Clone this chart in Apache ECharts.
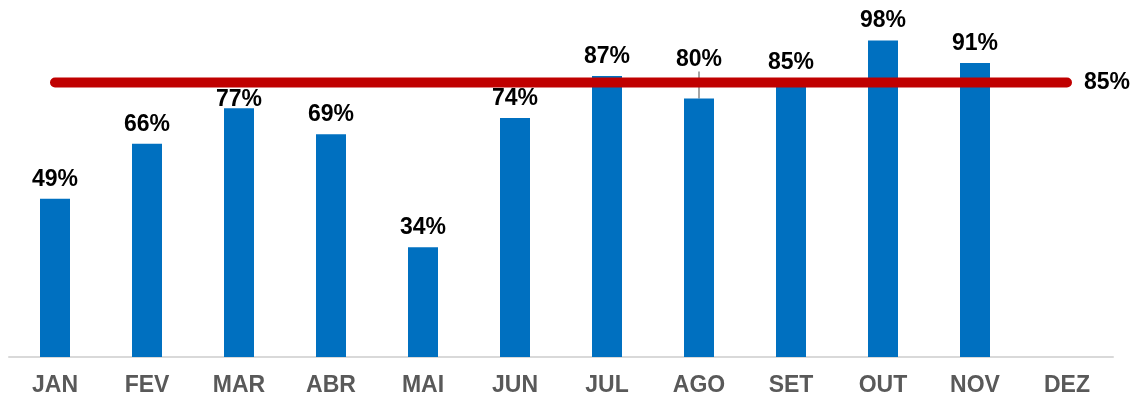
<!DOCTYPE html>
<html>
<head>
<meta charset="utf-8">
<script src="https://cdn.jsdelivr.net/npm/echarts@6/dist/echarts.min.js"></script>
<style>
  html, body { margin: 0; padding: 0; background: #fff; }
  #chart { width: 1132px; height: 401px; }
</style>
</head>
<body>
<div id="chart"></div>
<script>
  const months = ['JAN', 'FEV', 'MAR', 'ABR', 'MAI', 'JUN', 'JUL', 'AGO', 'SET', 'OUT', 'NOV', 'DEZ']
  const realizado = [49, 66, 77, 69, 34, 74, 87, 80, 85, 98, 91, null]
  const meta = [85, 85, 85, 85, 85, 85, 85, 85, 85, 85, 85, 85]

  const chart = echarts.init(document.getElementById('chart'))
  const font = '"Liberation Sans", Arial, sans-serif'

  // rótulos deslocados como no original (MAR mais baixo, AGO mais alto com linha guia)
  const barData = realizado.map((v, i) => {
    if (i === 7) return { value: v, labelLine: { show: true, lineStyle: { color: '#a6a6a6', width: 2 } } }
    return v
  })

  chart.setOption({
    animation: false,
    grid: { left: 9, right: 19, top: 34, bottom: 44 },
    xAxis: {
      type: 'category',
      data: months,
      axisTick: { show: false },
      axisLine: { lineStyle: { color: '#d9d9d9', width: 2 } },
      axisLabel: { color: '#595959', fontWeight: 'bold', fontSize: 23, fontFamily: font, margin: 17 }
    },
    yAxis: {
      type: 'value',
      min: 0,
      max: 100,
      show: false
    },
    series: [
      {
        name: 'Realizado',
        type: 'bar',
        barWidth: 30,
        data: barData,
        itemStyle: { color: '#0070c0' },
        label: {
          show: true,
          position: 'top',
          distance: 8,
          formatter: '{c}%',
          color: '#000',
          fontWeight: 'bold',
          fontSize: 23,
          fontFamily: font
        },
        labelLayout: (params) => {
          if (params.dataIndex === 2) return { dy: 11 }
          if (params.dataIndex === 7) return { dy: -19 }
          return {}
        }
      },
      {
        name: 'Meta',
        type: 'line',
        data: meta,
        symbol: 'none',
        lineStyle: { color: '#c00000', width: 10, cap: 'round' },
        z: 3,
        endLabel: {
          show: true,
          formatter: '85%',
          distance: 17,
          color: '#000',
          fontWeight: 'bold',
          fontSize: 23,
          fontFamily: font
        }
      }
    ]
  })
</script>
</body>
</html>
